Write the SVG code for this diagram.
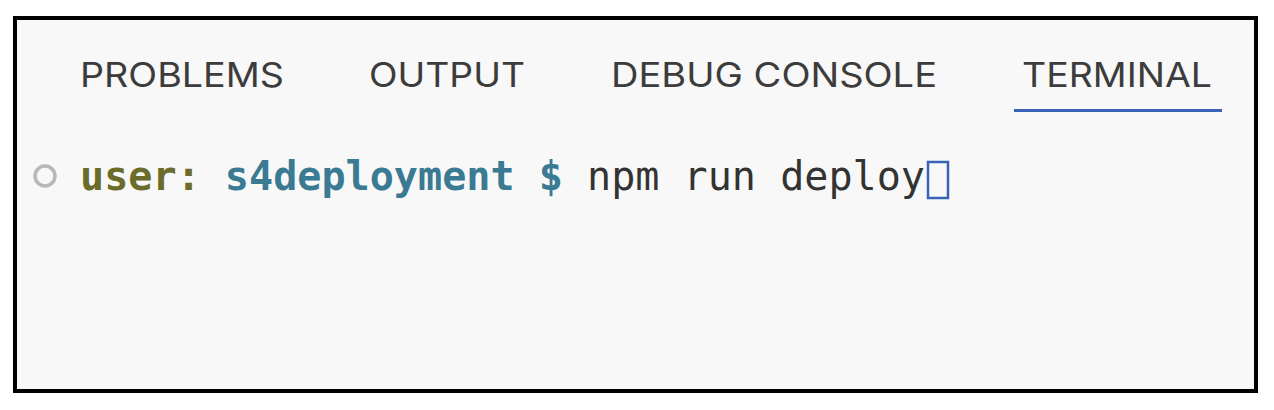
<svg xmlns="http://www.w3.org/2000/svg" width="1274" height="410" viewBox="0 0 1274 410">
<style>
.tab{font-family:Inter,"Liberation Sans",sans-serif;font-size:34px;fill:#3c3c3c}
.mono{font-family:"DejaVu Sans Mono","Liberation Mono",monospace;font-size:40px}
</style>
<rect width="1274" height="410" fill="#fff"/>
<rect x="15" y="18" width="1241" height="373" fill="#f8f8f8" stroke="#000" stroke-width="4"/>
<g id="tabs">
<text class="tab" x="80" y="87" textLength="204" lengthAdjust="spacingAndGlyphs">PROBLEMS</text>
<text class="tab" x="369" y="87" textLength="156" lengthAdjust="spacingAndGlyphs">OUTPUT</text>
<text class="tab" x="611" y="87" textLength="326" lengthAdjust="spacingAndGlyphs">DEBUG CONSOLE</text>
<text class="tab" x="1022" y="87" textLength="190" lengthAdjust="spacingAndGlyphs">TERMINAL</text>
<rect x="1014" y="109" width="208" height="3" fill="#3a63b8"/>
</g>
<g id="terminal">
<circle cx="45" cy="176" r="10" fill="none" stroke="#b8b8b8" stroke-width="3.5"/>
<text class="mono" x="80" y="190" textLength="845" lengthAdjust="spacingAndGlyphs"><tspan fill="#6b6b2a" font-weight="bold">user:</tspan><tspan fill="#3a7a92" font-weight="bold"> s4deployment $</tspan><tspan fill="#333"> npm run deploy</tspan></text>
<rect x="928" y="162" width="20" height="36" fill="none" stroke="#3a63b8" stroke-width="2.5"/>
</g>
</svg>
